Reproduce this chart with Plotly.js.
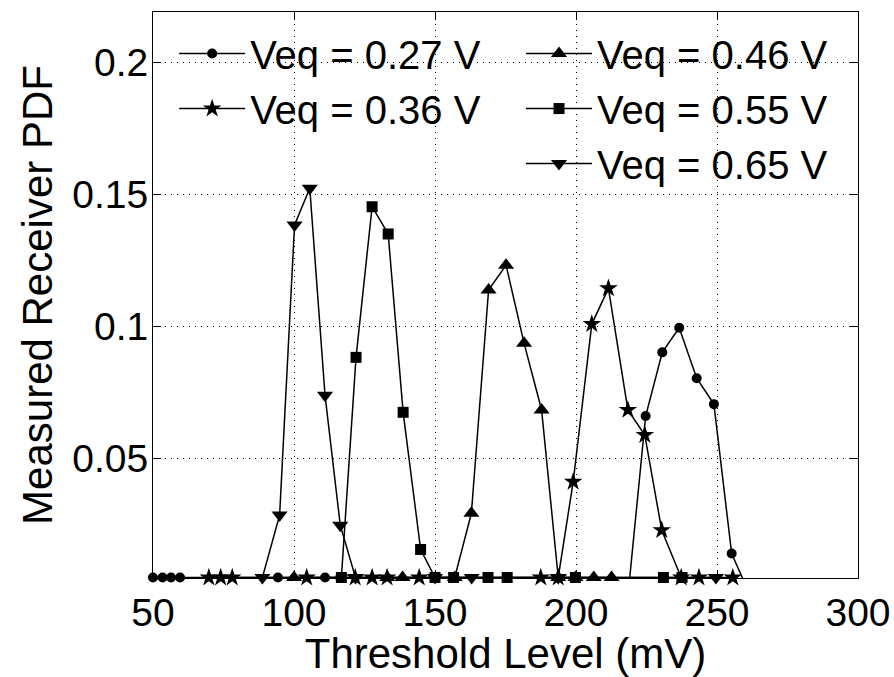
<!DOCTYPE html>
<html>
<head>
<meta charset="utf-8">
<script src="https://cdn.plot.ly/plotly-3.0.1.min.js"></script>
<style>
  html, body { margin: 0; padding: 0; background: #fff; }
  #chart { width: 894px; height: 677px; }
</style>
</head>
<body>
<div id="chart"></div>
<script>
// Measured receiver PDF versus threshold level for five equalizer voltages.
// Points sitting on the floor of the axis are stored as 0.005; true zeros fall below the axis.

var veq027X = [50, 53.4, 56.4, 59.6, 94.3, 111, 116.4, 218.6, 224.7, 230.6, 236.6, 242.8, 248.9, 255.2, 261];
var veq027Y = [0.005, 0.005, 0.005, 0.005, 0.005, 0.005, 0.005, 0, 0.0661, 0.0902, 0.0995, 0.0804, 0.0706, 0.0141, 0];

var veq036X = [69.8, 74, 78.1, 104.5, 121.7, 127.7, 133, 144.4, 187.5, 193.7, 199, 205.6, 211.5, 218.4, 224.4, 230.4, 237.3, 243.6, 255.6];
var veq036Y = [0.005, 0.005, 0.005, 0.005, 0.005, 0.005, 0.005, 0.005, 0.005, 0.005, 0.0412, 0.1009, 0.1144, 0.0684, 0.0589, 0.0229, 0.005, 0.005, 0.005];

var veq046X = [100, 133.1, 138.5, 157, 162.9, 169, 175.2, 181.6, 187.8, 193.7, 199.8, 206.3, 212.6];
var veq046Y = [0.005, 0.005, 0.005, 0.005, 0.0293, 0.1138, 0.1232, 0.0936, 0.0684, 0.005, 0.005, 0.005, 0.005];

var veq055X = [116.8, 122, 127.7, 133.4, 138.7, 144.9, 150, 156.6, 168.8, 175.6, 199.8, 231, 237.6];
var veq055Y = [0.005, 0.0883, 0.1453, 0.135, 0.0675, 0.0156, 0.005, 0.005, 0.005, 0.005, 0.005, 0.005, 0.005];

var veq065X = [88.8, 94.9, 100.2, 105.6, 111, 116.4, 121.8, 150, 163, 193.7, 249.6];
var veq065Y = [0.005, 0.0286, 0.1384, 0.1523, 0.074, 0.0248, 0.005, 0.005, 0.005, 0.005, 0.005];

var seriesNames = ['Veq = 0.27 V', 'Veq = 0.36 V', 'Veq = 0.46 V', 'Veq = 0.55 V', 'Veq = 0.65 V'];
var xTicks = [50, 100, 150, 200, 250, 300];
var yTicks = [0.05, 0.1, 0.15, 0.2];
var yTickLabels = ['0.05', '0.1', '0.15', '0.2'];

var FONT = 'Liberation Sans, Arial, Helvetica, sans-serif';

function series(x, y, name, symbol, size, legendId) {
  return {
    type: 'scatter',
    mode: 'lines+markers',
    x: x,
    y: y,
    name: name,
    legend: legendId,
    line: { color: '#000', width: 1.5 },
    marker: { symbol: symbol, size: size, color: '#000', line: { width: 0 } },
    // markers on the axis floor are drawn whole; points below the range stay hidden
    cliponaxis: false
  };
}

var data = [
  series(veq027X, veq027Y, seriesNames[0], 'circle', 10, 'legend'),
  series(veq036X, veq036Y, seriesNames[1], 'star', 14, 'legend'),
  series(veq046X, veq046Y, seriesNames[2], 'triangle-up', 14, 'legend2'),
  series(veq055X, veq055Y, seriesNames[3], 'square', 11, 'legend2'),
  series(veq065X, veq065Y, seriesNames[4], 'triangle-down', 14, 'legend2')
];

var axisCommon = {
  showline: true,
  linecolor: '#000',
  linewidth: 1,
  mirror: 'ticks',
  ticks: 'inside',
  ticklen: 8,
  tickwidth: 1,
  tickcolor: '#000',
  showgrid: true,
  gridcolor: '#000',
  gridwidth: 1,
  griddash: '1px,5px',
  zeroline: false,
  tickfont: { family: FONT, size: 39, color: '#000' }
};

var layout = {
  width: 894,
  height: 677,
  margin: { l: 153, r: 36, t: 12, b: 99, pad: 0 },
  paper_bgcolor: '#fff',
  plot_bgcolor: '#fff',
  showlegend: true,
  xaxis: Object.assign({}, axisCommon, {
    range: [50, 300],
    tickvals: xTicks,
    ticktext: xTicks.map(String),
    title: { text: 'Threshold Level (mV)', font: { family: FONT, size: 42, color: '#000' }, standoff: 0 }
  }),
  yaxis: Object.assign({}, axisCommon, {
    range: [0.0048, 0.219],
    tickvals: yTicks,
    ticktext: yTickLabels,
    ticklabelstandoff: -4,
    title: { text: 'Measured Receiver PDF', font: { family: FONT, size: 42, color: '#000' }, standoff: 6 }
  }),
  legend: {
    x: 0.03, y: 0.984, xanchor: 'left', yanchor: 'top',
    bgcolor: 'rgba(0,0,0,0)', borderwidth: 0,
    font: { family: FONT, size: 40, color: '#000' },
    itemwidth: 66,
    tracegroupgap: 0
  },
  legend2: {
    x: 0.522, y: 0.984, xanchor: 'left', yanchor: 'top',
    bgcolor: 'rgba(0,0,0,0)', borderwidth: 0,
    font: { family: FONT, size: 40, color: '#000' },
    itemwidth: 66,
    tracegroupgap: 0
  }
};

Plotly.newPlot('chart', data, layout, { displayModeBar: false, staticPlot: true });
</script>
</body>
</html>
